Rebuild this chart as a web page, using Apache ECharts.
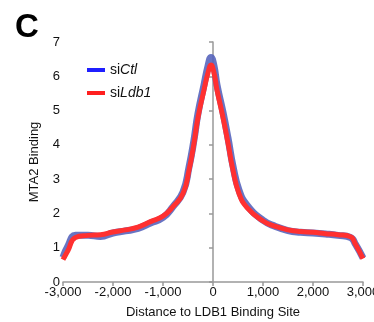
<!DOCTYPE html>
<html>
<head>
<meta charset="utf-8">
<script src="https://cdn.jsdelivr.net/npm/echarts@6/dist/echarts.min.js"></script>
<style>
  html, body { margin: 0; padding: 0; background: #fff; }
  #chart { width: 374px; height: 322px; }
</style>
</head>
<body>
<div id="chart"></div>
<script>
// distance to binding site (bp)
const distances = [-3000, -2900, -2750, -2500, -2250, -2000, -1750, -1500, -1250, -1000, -800, -600, -480, -380, -300, -180, -100, -40, 20, 80, 200, 300, 400, 520, 680, 1000, 1250, 1500, 1750, 2000, 2250, 2500, 2750, 2850, 3000];
const siCtl = [0.72, 1.05, 1.36, 1.36, 1.33, 1.43, 1.49, 1.56, 1.72, 1.88, 2.2, 2.62, 3.35, 4.15, 4.92, 5.75, 6.3, 6.55, 6.3, 5.75, 4.95, 4.2, 3.38, 2.68, 2.24, 1.8, 1.62, 1.5, 1.45, 1.43, 1.4, 1.36, 1.3, 1.1, 0.7];
const siLdb1 = [0.65, 0.92, 1.30, 1.36, 1.38, 1.46, 1.52, 1.60, 1.76, 1.92, 2.2, 2.58, 3.26, 4.05, 4.8, 5.6, 6.1, 6.33, 6.1, 5.6, 4.8, 4.05, 3.26, 2.58, 2.17, 1.78, 1.62, 1.52, 1.47, 1.45, 1.41, 1.38, 1.32, 1.1, 0.68];
const xTicks = [-3000, -2000, -1000, 0, 1000, 2000, 3000];

const font = 'Liberation Sans, Arial, Helvetica, sans-serif';

const chart = echarts.init(document.getElementById('chart'));

const pairs = (ys) => distances.map((x, i) => [x, ys[i]]);

chart.setOption({
  animation: false,
  textStyle: { fontFamily: font },
  title: {
    text: 'C',
    left: 10,
    top: 6,
    textStyle: { fontSize: 33, fontWeight: 'bold', color: '#000', fontFamily: font }
  },
  legend: {
    orient: 'vertical',
    left: 82,
    top: 58,
    itemGap: 9,
    itemWidth: 18,
    itemHeight: 4,
    icon: 'rect',
    data: [
      { name: 'siCtl', itemStyle: { color: '#1f1fff' } },
      { name: 'siLdb1', itemStyle: { color: '#ff1f1f' } }
    ],
    formatter: (name) => '{n|si}{i|' + name.slice(2) + '}',
    textStyle: {
      fontSize: 14,
      color: '#111',
      rich: {
        n: { fontSize: 14, color: '#111', fontFamily: font },
        i: { fontSize: 14, color: '#111', fontStyle: 'italic', fontFamily: font }
      }
    }
  },
  grid: { left: 63, right: 11, top: 42, bottom: 40, outerBoundsMode: 'none' },
  xAxis: {
    type: 'value',
    min: -3000,
    max: 3000,
    interval: 1000,
    name: 'Distance to LDB1 Binding Site',
    nameLocation: 'middle',
    nameGap: 24,
    nameTextStyle: { fontSize: 13, color: '#111', fontFamily: font },
    axisLine: { lineStyle: { color: '#999', width: 1.5 } },
    axisTick: { show: true, length: 4, lineStyle: { color: '#999', width: 1.5 } },
    axisLabel: {
      fontSize: 13, color: '#111', margin: 4,
      formatter: (v) => xTicks.includes(v) ? v.toLocaleString('en-US') : ''
    },
    splitLine: { show: false }
  },
  yAxis: {
    type: 'value',
    min: 0,
    max: 7,
    interval: 1,
    name: 'MTA2 Binding',
    nameLocation: 'middle',
    nameGap: 22,
    nameTextStyle: { fontSize: 13, color: '#111', fontFamily: font },
    axisLine: { show: true, lineStyle: { color: '#999', width: 1.5 } },
    axisTick: { show: true, length: 4, lineStyle: { color: '#999', width: 1.5 } },
    axisLabel: { fontSize: 13, color: '#111', margin: 3 },
    splitLine: { show: false }
  },
  series: [
    {
      name: 'siCtl',
      type: 'line',
      data: pairs(siCtl),
      showSymbol: false,
      smooth: 0.5,
      itemStyle: { color: '#1f1fff' },
      lineStyle: { color: '#5865bd', width: 7, opacity: 0.9 }
    },
    {
      name: 'siLdb1',
      type: 'line',
      data: pairs(siLdb1),
      showSymbol: false,
      smooth: 0.5,
      itemStyle: { color: '#ff1f1f' },
      lineStyle: { color: '#ff3030', width: 5 }
    }
  ]
});
</script>
</body>
</html>
